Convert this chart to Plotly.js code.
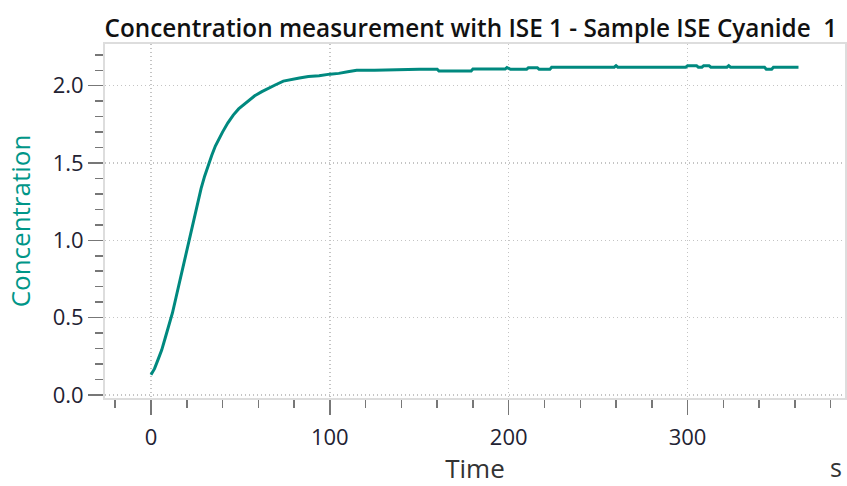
<!DOCTYPE html>
<html>
<head>
<meta charset="utf-8">
<script src="https://cdn.plot.ly/plotly-3.0.1.min.js"></script>
<style>
  html, body { margin: 0; padding: 0; background: #ffffff; }
  #chart { width: 847px; height: 486px; }
</style>
</head>
<body>
<div id="chart"></div>
<script>
// Measurement time in seconds
const timeSec = [
  0, 2, 4, 6, 8, 10, 12, 14, 16, 18,
  20, 22, 24, 26, 28, 30, 32, 34, 36, 38,
  40, 43, 46, 49, 52, 55, 58, 62, 66, 70,
  74, 78, 83, 88, 94, 100, 105, 110, 115, 125,
  139, 150, 160, 161, 179, 180, 198, 199, 201, 210,
  211, 216, 217, 223, 224, 259, 260, 261, 299, 300,
  305, 306, 308, 309, 312, 313, 322, 323, 324, 343,
  344, 347, 348, 362
];

// Measured concentration
const concentration = [
  0.13, 0.17, 0.23, 0.29, 0.37, 0.45, 0.53, 0.63, 0.73, 0.83,
  0.93, 1.03, 1.14, 1.24, 1.335, 1.415, 1.49, 1.55, 1.61, 1.66,
  1.70, 1.76, 1.81, 1.85, 1.88, 1.91, 1.935, 1.962, 1.987, 2.008,
  2.03, 2.04, 2.05, 2.06, 2.065, 2.075, 2.08, 2.09, 2.10, 2.10,
  2.105, 2.107, 2.107, 2.095, 2.095, 2.108, 2.108, 2.118, 2.106, 2.106,
  2.117, 2.117, 2.106, 2.106, 2.12, 2.12, 2.13, 2.12, 2.12, 2.13,
  2.13, 2.12, 2.12, 2.13, 2.13, 2.12, 2.12, 2.13, 2.12, 2.12,
  2.107, 2.107, 2.12, 2.12
];

const chartTitle = 'Concentration measurement with ISE 1 - Sample ISE Cyanide  1';
const xTitle = 'Time';
const yTitle = 'Concentration';
const xUnit = 's';

const FONT = 'Open Sans, sans-serif';
const dottedGrid = '1px,3px';

const trace = {
  x: timeSec,
  y: concentration,
  type: 'scatter',
  mode: 'lines',
  line: { color: '#00897f', width: 3 },
  hoverinfo: 'x+y'
};

const layout = {
  width: 847,
  height: 486,
  margin: { l: 105, r: 2, t: 44, b: 88 },
  paper_bgcolor: '#ffffff',
  plot_bgcolor: '#ffffff',
  showlegend: false,
  title: {
    text: chartTitle,
    font: { family: FONT, size: 24.3, color: '#111111', weight: 600 },
    x: 0.556, xanchor: 'center',
    y: 0.942, yanchor: 'middle'
  },
  xaxis: {
    range: [-25.7, 388],
    tick0: 0, dtick: 100,
    ticks: 'outside', ticklen: 15, tickwidth: 1.5, tickcolor: '#777777',
    ticklabelstandoff: 4,
    minor: { dtick: 20, ticks: 'outside', ticklen: 8, tickwidth: 1.5, tickcolor: '#777777', showgrid: false },
    showgrid: true, gridcolor: '#c4c4c4', griddash: dottedGrid, gridwidth: 1.5,
    zeroline: false,
    showline: true, linecolor: '#dddddd', linewidth: 2, mirror: true,
    tickfont: { family: FONT, size: 22, color: '#222233' },
    title: { text: xTitle, font: { family: FONT, size: 26, color: '#333333' }, standoff: 14 }
  },
  yaxis: {
    range: [-0.02, 2.27],
    tick0: 0, dtick: 0.5,
    tickformat: '.1f',
    ticks: 'outside', ticklen: 15, tickwidth: 1.5, tickcolor: '#777777',
    minor: { dtick: 0.1, ticks: 'outside', ticklen: 8, tickwidth: 1.5, tickcolor: '#777777', showgrid: false },
    showgrid: true, gridcolor: '#c4c4c4', griddash: dottedGrid, gridwidth: 1.5,
    zeroline: false,
    showline: true, linecolor: '#dddddd', linewidth: 2, mirror: true,
    tickfont: { family: FONT, size: 22, color: '#222233' },
    title: { text: yTitle, font: { family: FONT, size: 26, color: '#009688' }, standoff: 15 }
  },
  annotations: [
    {
      // unit of the time axis, in the bottom-right corner
      text: xUnit,
      xref: 'paper', yref: 'paper',
      x: (836 - 105) / 740, y: -(485 - 398) / 354,
      xanchor: 'center', yanchor: 'bottom',
      borderpad: 0,
      showarrow: false,
      font: { family: FONT, size: 25, color: '#333333' }
    }
  ]
};

Plotly.newPlot('chart', [trace], layout, { displayModeBar: false, staticPlot: true });
</script>
</body>
</html>
